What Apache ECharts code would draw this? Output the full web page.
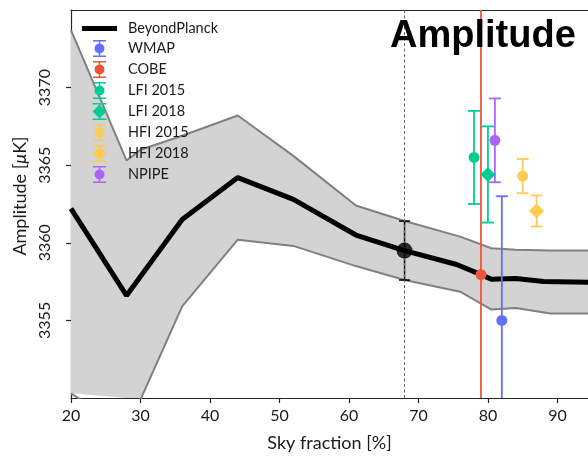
<!DOCTYPE html>
<html>
<head>
<meta charset="utf-8">
<script src="https://cdn.jsdelivr.net/npm/echarts@6/dist/echarts.min.js"></script>
<style>
  html, body { margin: 0; padding: 0; background: #fff; }
  #chart { width: 588px; height: 461px; }
</style>
</head>
<body>
<div id="chart"></div>
<script>
// BeyondPlanck amplitude vs sky fraction
var bpSky = [20, 28, 36, 44, 52, 61, 68, 75.5, 79, 80.5, 84, 88, 96];
var bpAmp = [3362.2, 3356.6, 3361.5, 3364.2, 3362.8, 3360.5, 3359.5, 3358.6, 3357.95, 3357.65, 3357.7, 3357.5, 3357.45];

// uncertainty band
var bandSky = [20, 28, 30, 36, 44, 52, 61, 68, 76, 80.5, 84, 89, 96];
var bandHigh = [3373.7, 3365.3, 3366.0, 3366.9, 3368.2, 3365.6, 3362.4, 3361.4, 3360.4, 3359.65, 3359.55, 3359.5, 3359.5];
var bandLow = [3350.3, 3348.0, 3349.9, 3355.9, 3360.2, 3359.8, 3358.5, 3357.6, 3356.85, 3355.7, 3355.8, 3355.45, 3355.45];

// reference point (fsky = 68%)
var bpPoint = [68, 3359.5, 1.9];
var fskyMark = 68;

// other experiments
var expNames = ["WMAP", "COBE", "LFI 2015", "LFI 2018", "HFI 2015", "HFI 2018", "NPIPE"];
var expSky = [82, 79, 78, 80, 85, 87, 81];
var expAmp = [3355.0, 3357.95, 3365.5, 3364.4, 3364.3, 3362.05, 3366.6];
var expErr = [8.0, 23.0, 3.0, 3.1, 1.1, 1.0, 2.7];

var xTicks = { min: 20, max: 94.4, step: 10 };
var yTicks = { min: 3350, max: 3375, step: 5 };

// styles
var EXP_COLORS = ["#636efa", "#ef553b", "#00cc96", "#00cc96", "#fecb52", "#fecb52", "#ab63fa"];
var EXP_SYMBOLS = ["circle", "circle", "circle", "diamond", "circle", "diamond", "circle"];
var FONT = "Lato, 'DejaVu Sans', sans-serif";
var AXIS_COLOR = "#262626";
var TEXT_COLOR = "#1a1a1a";

var ICON_LINE = "path://M0 0H35V5H0Z";
var ICON_CIRCLE = "path://M0 0H13V1.5H0Z M5.75 0H7.25V17H5.75Z M0 15.5H13V17H0Z M1.5 8.5A5 5 0 1 1 11.5 8.5A5 5 0 1 1 1.5 8.5Z";
var ICON_DIAMOND = "path://M0 0H14V1.5H0Z M6.25 0H7.75V17H6.25Z M0 15.5H14V17H0Z M7 1.5L14 8.5L7 15.5L0 8.5Z";

function clamp(v, a, b) { return Math.max(a, Math.min(b, v)); }

function renderBand(params, api) {
  var cs = params.coordSys;
  var pts = [];
  var i;
  for (i = 0; i < bandSky.length; i++) pts.push(api.coord([bandSky[i], bandHigh[i]]));
  for (i = bandSky.length - 1; i >= 0; i--) pts.push(api.coord([bandSky[i], bandLow[i]]));
  pts = pts.map(function (p) {
    return [clamp(p[0], cs.x, cs.x + cs.width), clamp(p[1], cs.y, cs.y + cs.height)];
  });
  return { type: "polygon", shape: { points: pts }, style: { fill: "#d3d3d3" } };
}

function errorBar(color, capHalf, width) {
  return function (params, api) {
    var cs = params.coordSys;
    var x = api.value(0), y = api.value(1), e = api.value(2);
    var hi = api.coord([x, y + e]);
    var lo = api.coord([x, y - e]);
    var top = cs.y, bottom = cs.y + cs.height;
    var st = { stroke: color, lineWidth: width };
    var kids = [{
      type: "line",
      shape: { x1: hi[0], y1: Math.max(hi[1], top), x2: lo[0], y2: Math.min(lo[1], bottom) },
      style: st
    }];
    if (hi[1] >= top) kids.push({ type: "line", shape: { x1: hi[0] - capHalf, y1: hi[1], x2: hi[0] + capHalf, y2: hi[1] }, style: st });
    if (lo[1] <= bottom) kids.push({ type: "line", shape: { x1: lo[0] - capHalf, y1: lo[1], x2: lo[0] + capHalf, y2: lo[1] }, style: st });
    return { type: "group", children: kids };
  };
}

var series = [
  {
    type: "custom", name: "band", z: 1, silent: true,
    renderItem: renderBand,
    data: [[bandSky[0], bandHigh[0]]]
  },
  {
    type: "line", name: "bandHigh", z: 2, symbol: "none", silent: true,
    data: bandSky.map(function (s, i) { return [s, bandHigh[i]]; }),
    lineStyle: { color: "#808080", width: 2 }
  },
  {
    type: "line", name: "bandLow", z: 2, symbol: "none", silent: true,
    data: bandSky.map(function (s, i) { return [s, bandLow[i]]; }),
    lineStyle: { color: "#808080", width: 2 }
  },
  {
    type: "line", name: "BeyondPlanck", z: 3, symbol: "none",
    data: bpSky.map(function (s, i) { return [s, bpAmp[i]]; }),
    lineStyle: { color: "#000", width: 5 },
    itemStyle: { color: "#000" },
    markLine: {
      silent: true, symbol: "none",
      label: { show: false },
      lineStyle: { color: "#666", width: 1, type: [3, 2.5] },
      data: [{ xAxis: fskyMark }]
    }
  },
  {
    type: "custom", name: "BeyondPlanck", z: 4,
    renderItem: errorBar("#000", 5.5, 1.5),
    data: [bpPoint]
  },
  {
    type: "scatter", name: "BeyondPlanck", z: 5,
    symbol: "circle", symbolSize: 16,
    itemStyle: { color: "#000" },
    data: [[bpPoint[0], bpPoint[1]]]
  }
];

expNames.forEach(function (name, i) {
  series.push({
    type: "custom", name: name, z: 6,
    renderItem: errorBar(EXP_COLORS[i], 6, 1.8),
    data: [[expSky[i], expAmp[i], expErr[i]]]
  });
  series.push({
    type: "scatter", name: name, z: 7,
    symbol: EXP_SYMBOLS[i],
    symbolSize: EXP_SYMBOLS[i] === "diamond" ? 15 : 11,
    itemStyle: { color: EXP_COLORS[i], opacity: 1 },
    data: [[expSky[i], expAmp[i]]]
  });
});

var legendData = [{ name: "BeyondPlanck", icon: ICON_LINE, itemStyle: { color: "#000", borderWidth: 0 } }];
expNames.forEach(function (name, i) {
  legendData.push({
    name: name,
    icon: EXP_SYMBOLS[i] === "diamond" ? ICON_DIAMOND : ICON_CIRCLE,
    itemStyle: { color: EXP_COLORS[i], borderWidth: 0 }
  });
});

var chart = echarts.init(document.getElementById("chart"), null, { renderer: "canvas" });
chart.setOption({
  animation: false,
  backgroundColor: "#fff",
  grid: { left: 71, right: 0, top: 10, bottom: 63, containLabel: false, outerBoundsMode: "none" },
  legend: {
    orient: "vertical", left: 82, top: 21, padding: 0,
    itemWidth: 35, itemHeight: 17, itemGap: 4,
    symbolKeepAspect: true,
    selectedMode: false,
    textStyle: { fontFamily: FONT, fontSize: 14.5, color: TEXT_COLOR, padding: [0, 0, 0, 6] },
    data: legendData
  },
  xAxis: [{
    type: "value", min: xTicks.min, max: xTicks.max, interval: xTicks.step,
    name: "Sky fraction [%]", nameLocation: "middle", nameGap: 36,
    nameTextStyle: { fontFamily: FONT, fontSize: 18, color: TEXT_COLOR },
    axisLine: { show: true, onZero: false, lineStyle: { color: AXIS_COLOR, width: 1.2 } },
    axisTick: { show: true, length: 5, lineStyle: { color: AXIS_COLOR, width: 1.2 } },
    axisLabel: { fontFamily: FONT, fontSize: 16, color: TEXT_COLOR, margin: 10, showMaxLabel: false,
      formatter: function (v) { return String(v); } },
    splitLine: { show: false }
  }, {
    type: "value", position: "top", min: xTicks.min, max: xTicks.max,
    axisLine: { show: true, onZero: false, lineStyle: { color: AXIS_COLOR, width: 1.2 } },
    axisTick: { show: false }, axisLabel: { show: false }, splitLine: { show: false }
  }],
  yAxis: {
    type: "value", min: yTicks.min, max: yTicks.max, interval: yTicks.step,
    name: "{n|Amplitude [}{m|μ}{n|K]}", nameLocation: "middle", nameGap: 42,
    nameTextStyle: {
      padding: [0, 0, 0, 16],
      rich: {
        n: { fontFamily: FONT, fontSize: 18, color: TEXT_COLOR },
        m: { fontFamily: FONT, fontSize: 18, color: TEXT_COLOR, fontStyle: "italic" }
      }
    },
    axisLine: { show: true, onZero: false, lineStyle: { color: AXIS_COLOR, width: 1.2 } },
    axisTick: { show: true, length: 5, lineStyle: { color: AXIS_COLOR, width: 1.2 } },
    axisLabel: { fontFamily: FONT, fontSize: 16, color: TEXT_COLOR, rotate: 90, margin: 18,
      showMinLabel: false, showMaxLabel: false,
      formatter: function (v) { return String(v); } },
    splitLine: { show: false }
  },
  graphic: [{
    type: "text", z: 100, x: 390, y: 37,
    style: {
      text: "Amplitude", fill: "#000",
      font: "bold 38px 'Liberation Sans', Arial, sans-serif",
      textAlign: "left", textVerticalAlign: "middle"
    }
  }],
  series: series
});
</script>
</body>
</html>
